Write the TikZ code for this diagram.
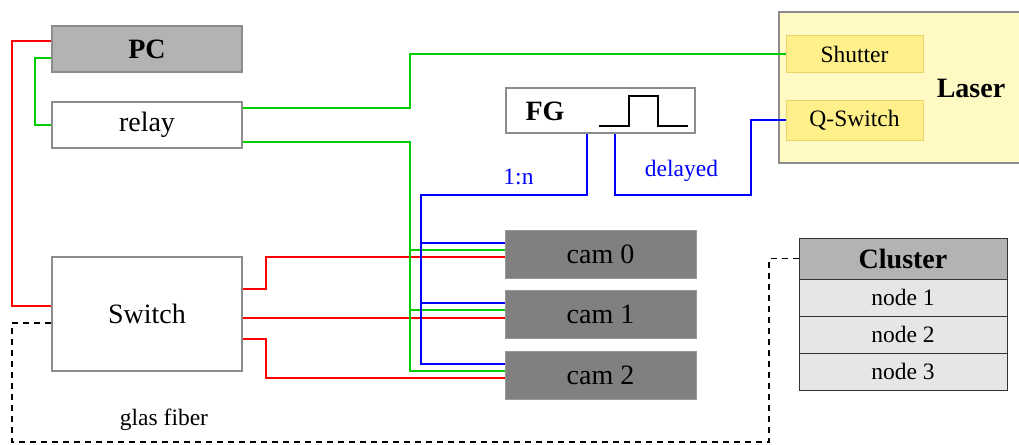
\documentclass[tikz,border=0pt]{standalone}
\usepackage{fontspec}
\setmainfont{Liberation Serif}
\definecolor{boxgray}{HTML}{8C8C8C}
\definecolor{pcfill}{HTML}{B3B3B3}
\definecolor{camfill}{HTML}{808080}
\definecolor{rowfill}{HTML}{E6E6E6}
\definecolor{laserfill}{HTML}{FFF9C4}
\definecolor{subfill}{HTML}{FFF08A}
\definecolor{subdraw}{HTML}{E8D46A}
\definecolor{lred}{HTML}{FF0000}
\definecolor{lgreen}{HTML}{00CC00}
\definecolor{lblue}{HTML}{0000FF}
\tikzset{
  big/.style={font=\fontsize{28}{32}\selectfont},
  small/.style={font=\fontsize{23.5}{27}\selectfont},
  dev/.style={draw=boxgray, line width=2pt, inner sep=0pt, big, minimum width=190pt},
  cambox/.style={fill=camfill, draw=camfill!80!white, line width=0.5pt, inner sep=0pt, big, minimum width=191pt, minimum height=48pt},
  subbox/.style={fill=subfill, draw=subdraw, line width=1pt, inner sep=0pt, small, minimum width=137pt},
  row/.style={fill=rowfill, draw=black!80, line width=0.8pt, inner sep=0pt, small, minimum width=208pt, minimum height=37pt},
  rline/.style={lred, line width=1.9pt},
  gline/.style={lgreen, line width=1.9pt},
  bline/.style={lblue, line width=1.9pt},
  fiber/.style={black, line width=1.9pt, dash pattern=on 6pt off 5pt},
}
\begin{document}
\begin{tikzpicture}[x=1pt,y=-1pt]
\useasboundingbox (0,0) rectangle (1019,444);
% devices
\node[dev, fill=pcfill, minimum height=46pt, font=\fontsize{28}{32}\selectfont\bfseries] (PC) at (147,49) {PC};
\node[dev, fill=white, minimum height=46pt] (relay) at (147,125) {relay};
\node[dev, fill=white, minimum height=114pt] (Switch) at (147,314) {Switch};
\node[dev, fill=white, minimum width=189pt, minimum height=45pt] (FG) at (600.5,110.5) {};
\node[font=\fontsize{28}{32}\selectfont\bfseries] (FGtxt) at (545,111) {FG};
\draw[black, line width=2pt] (599,126) -- (629,126) -- (629,96) -- (658,96) -- (658,126) -- (688,126);
% laser
\node[draw=boxgray, fill=laserfill, line width=2pt, minimum width=262pt, minimum height=151pt, inner sep=0pt] (Laser) at (910,87.5) {};
\node[font=\fontsize{28}{32}\selectfont\bfseries] (Lasertxt) at (971,88) {Laser};
\node[subbox, minimum height=36pt] (Shutter) at (854.5,54) {Shutter};
\node[subbox, minimum height=40pt] (QSwitch) at (854.5,120) {Q-Switch};
% cameras
\node[cambox] (cam0) at (600.5,254) {cam 0};
\node[cambox] (cam1) at (600.5,314) {cam 1};
\node[cambox] (cam2) at (600.5,375) {cam 2};
% cluster
\node[row, fill=pcfill, minimum height=41pt, font=\fontsize{28}{32}\selectfont\bfseries] (head) at (903,258.5) {Cluster};
\node[row] (n1) at (903,297.5) {node 1};
\node[row] (n2) at (903,334.5) {node 2};
\node[row] (n3) at (903,371.5) {node 3};
% anchor coordinates on the cameras
\foreach \c in {0,1,2}{
  \coordinate (c\c b) at ([yshift=11pt]cam\c.west);
  \coordinate (c\c g) at ([yshift=4pt]cam\c.west);
  \coordinate (c\c r) at ([yshift=-3pt]cam\c.west);
}
\coordinate (s1r) at ([yshift=-4pt]Switch.east);
% red
\draw[rline] ([yshift=8pt]PC.west) -- ++(-39,0) |- ([yshift=8pt]Switch.west);
\draw[rline] ([yshift=25pt]Switch.east) -- ++(23,0) |- (c0r);
\draw[rline] (s1r) -- (cam1.west |- s1r);
\draw[rline] ([yshift=-25pt]Switch.east) -- ++(23,0) |- (c2r);
% green
\draw[gline] ([yshift=-9pt]PC.west) -- ++(-16,0) |- (relay.west);
\draw[gline] ([yshift=17pt]relay.east) -- ++(167,0) |- (Shutter.west);
\draw[gline] ([yshift=-17pt]relay.east) -- ++(167,0) coordinate (gv) |- (c2g);
\draw[gline] (gv |- c0g) -- (c0g);
\draw[gline] (gv |- c1g) -- (c1g);
% blue
\draw[bline] ([xshift=-13.5pt]FG.south) -- ++(0,61) -- ++(-166,0) coordinate (bv) |- (c2b);
\draw[bline] (bv |- c0b) -- (c0b);
\draw[bline] (bv |- c1b) -- (c1b);
\draw[bline] ([xshift=14.5pt]FG.south) -- ++(0,61) -- ++(136,0) |- (QSwitch.west);
\node[small, text=lblue] (lab1n) at (518.5,177) {1:n};
\node[small, text=lblue] (labdel) at (681.5,171) {delayed};
% glass fiber
\draw[fiber] ([yshift=-9pt]Switch.west) -- ++(-39,0) -- ++(0,119) -| ([xshift=-30pt]head.west) -- (head.west);
\node[small] (labfib) at (164,420) {glas fiber};
\end{tikzpicture}
\end{document}
